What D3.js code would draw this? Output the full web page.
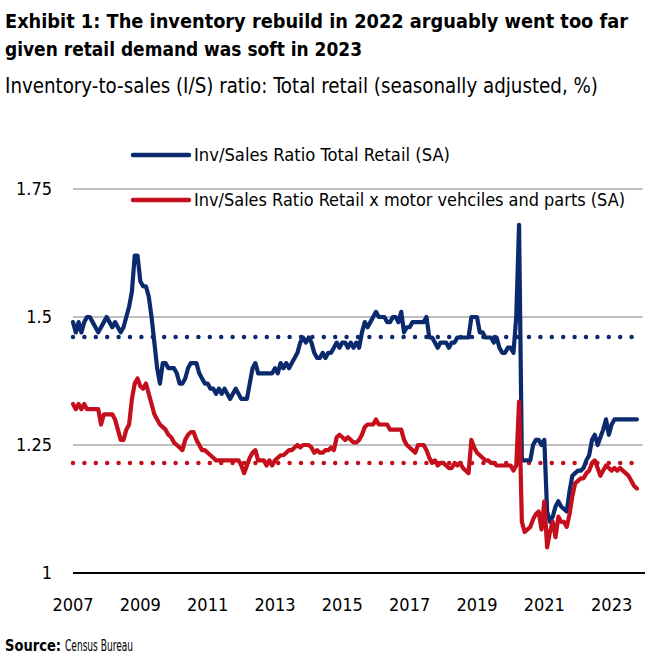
<!DOCTYPE html>
<html>
<head>
<meta charset="utf-8">
<script src="https://cdn.jsdelivr.net/npm/d3@7"></script>
<style>
  html, body { margin: 0; padding: 0; background: #fff; }
  svg { display: block; }
  .cond { font-family: "Liberation Sans Narrow", "DejaVu Sans Condensed", "Roboto", sans-serif; }
</style>
</head>
<body>
<script>
// ---------------- DATA ----------------
const startYear = 2007;
const yearTicks = [2007, 2009, 2011, 2013, 2015, 2017, 2019, 2021, 2023];
const yTicks = [1, 1.25, 1.5, 1.75];
const yTickLabels = ["1", "1.25", "1.5", "1.75"];

const seriesNames = [
  "Inv/Sales Ratio Total Retail (SA)",
  "Inv/Sales Ratio Retail x motor vehciles and parts (SA)"
];

// Monthly, Jan 2007 .. Oct 2023
const totalRetail = [
  1.49, 1.47, 1.49, 1.47, 1.49, 1.50, 1.50, 1.49, 1.48, 1.47, 1.48, 1.49, // 2007
  1.50, 1.49, 1.48, 1.49, 1.48, 1.47, 1.48, 1.50, 1.52, 1.55, 1.62, 1.62, // 2008
  1.57, 1.56, 1.56, 1.54, 1.50, 1.45, 1.40, 1.37, 1.41, 1.41, 1.40, 1.40, // 2009
  1.40, 1.39, 1.37, 1.37, 1.38, 1.40, 1.41, 1.41, 1.41, 1.39, 1.38, 1.37, // 2010
  1.37, 1.36, 1.36, 1.35, 1.36, 1.35, 1.36, 1.35, 1.34, 1.35, 1.36, 1.35, // 2011
  1.34, 1.34, 1.34, 1.37, 1.40, 1.41, 1.39, 1.39, 1.39, 1.39, 1.39, 1.39, // 2012
  1.40, 1.39, 1.41, 1.40, 1.41, 1.40, 1.41, 1.42, 1.43, 1.45, 1.46, 1.45, // 2013
  1.46, 1.45, 1.43, 1.42, 1.42, 1.43, 1.42, 1.43, 1.43, 1.44, 1.45, 1.44, // 2014
  1.45, 1.45, 1.44, 1.45, 1.44, 1.45, 1.44, 1.47, 1.49, 1.48, 1.49, 1.50, // 2015
  1.51, 1.50, 1.50, 1.50, 1.49, 1.49, 1.50, 1.50, 1.49, 1.51, 1.47, 1.48, // 2016
  1.48, 1.49, 1.49, 1.49, 1.49, 1.49, 1.50, 1.46, 1.46, 1.45, 1.44, 1.45, // 2017
  1.45, 1.45, 1.44, 1.45, 1.45, 1.46, 1.46, 1.46, 1.46, 1.46, 1.50, 1.50, // 2018
  1.50, 1.47, 1.47, 1.46, 1.46, 1.46, 1.45, 1.46, 1.44, 1.43, 1.43, 1.44, // 2019
  1.44, 1.43, 1.50, 1.68, 1.22, 1.22, 1.22, 1.22, 1.25, 1.26, 1.26, 1.25, // 2020
  1.26, 1.12, 1.10, 1.11, 1.13, 1.14, 1.13, 1.125, 1.12, 1.16, 1.19, 1.195, // 2021
  1.20, 1.20, 1.205, 1.22, 1.23, 1.26, 1.27, 1.25, 1.265, 1.28, 1.30, 1.27, // 2022
  1.29, 1.30, 1.30, 1.30, 1.30, 1.30, 1.30, 1.30, 1.30, 1.30              // 2023
];

const retailExAuto = [
  1.33, 1.32, 1.33, 1.32, 1.33, 1.32, 1.32, 1.32, 1.32, 1.32, 1.29, 1.31, // 2007
  1.31, 1.31, 1.31, 1.30, 1.28, 1.26, 1.26, 1.28, 1.29, 1.34, 1.37, 1.38, // 2008
  1.365, 1.36, 1.37, 1.35, 1.33, 1.31, 1.30, 1.29, 1.285, 1.28, 1.27, 1.265, // 2009
  1.255, 1.25, 1.245, 1.24, 1.26, 1.27, 1.275, 1.275, 1.26, 1.25, 1.24, 1.24, // 2010
  1.235, 1.23, 1.225, 1.22, 1.22, 1.22, 1.22, 1.22, 1.22, 1.22, 1.22, 1.22, // 2011
  1.21, 1.195, 1.21, 1.225, 1.235, 1.24, 1.22, 1.22, 1.22, 1.21, 1.22, 1.21, // 2012
  1.22, 1.225, 1.23, 1.23, 1.235, 1.24, 1.24, 1.245, 1.25, 1.245, 1.25, 1.25, // 2013
  1.25, 1.245, 1.235, 1.24, 1.235, 1.235, 1.24, 1.24, 1.245, 1.24, 1.265, 1.27, // 2014
  1.265, 1.26, 1.265, 1.26, 1.255, 1.255, 1.26, 1.27, 1.285, 1.29, 1.29, 1.29, // 2015
  1.30, 1.29, 1.29, 1.29, 1.29, 1.28, 1.28, 1.28, 1.28, 1.28, 1.26, 1.25, // 2016
  1.245, 1.24, 1.235, 1.25, 1.25, 1.25, 1.24, 1.225, 1.215, 1.22, 1.21, 1.215, // 2017
  1.215, 1.21, 1.205, 1.205, 1.215, 1.21, 1.215, 1.205, 1.20, 1.195, 1.26, 1.245, // 2018
  1.235, 1.23, 1.225, 1.22, 1.22, 1.215, 1.215, 1.21, 1.21, 1.21, 1.21, 1.21, // 2019
  1.21, 1.20, 1.21, 1.335, 1.10, 1.08, 1.085, 1.09, 1.105, 1.115, 1.12, 1.085, // 2020
  1.14, 1.05, 1.08, 1.10, 1.07, 1.11, 1.10, 1.10, 1.09, 1.115, 1.15, 1.175, // 2021
  1.18, 1.185, 1.185, 1.195, 1.20, 1.215, 1.22, 1.205, 1.19, 1.20, 1.21, 1.205, // 2022
  1.20, 1.205, 1.20, 1.205, 1.20, 1.195, 1.19, 1.18, 1.17, 1.165            // 2023
];

// long-run averages (dotted lines)
const avgTotalRetail = 1.461;
const avgRetailExAuto = 1.215;

// ---------------- CHART ----------------
const W = 650, H = 663;
const navy = "#0b2a6e", red = "#c50f1c", grid = "#bfbfbf";

const svg = d3.select("body").append("svg").attr("width", W).attr("height", H);

const nMonths = totalRetail.length;
const x = d3.scaleLinear().domain([0, 203]).range([73, 642.5]);
const y = d3.scaleLinear().domain([1, 1.75]).range([573, 189]);

// helper: fit text to a width
function fit(sel, w) {
  sel.attr("textLength", w).attr("lengthAdjust", "spacingAndGlyphs");
  return sel;
}

// Title
const tg = svg.append("g").attr("class", "cond");
fit(tg.append("text").attr("x", 5).attr("y", 28)
  .attr("font-size", 20).attr("font-weight", "bold").attr("fill", "#000")
  .text("Exhibit 1: The inventory rebuild in 2022 arguably went too far"), 623);
fit(tg.append("text").attr("x", 5).attr("y", 56)
  .attr("font-size", 20).attr("font-weight", "bold").attr("fill", "#000")
  .text("given retail demand was soft in 2023"), 357);
fit(tg.append("text").attr("x", 5).attr("y", 93)
  .attr("font-size", 20.5).attr("fill", "#000")
  .text("Inventory-to-sales (I/S) ratio: Total retail (seasonally adjusted, %)"), 593);

// gridlines
svg.append("g").selectAll("line").data(yTicks.filter(d => d > 1)).join("line")
  .attr("x1", x(0)).attr("x2", x(203))
  .attr("y1", d => y(d)).attr("y2", d => y(d))
  .attr("stroke", grid).attr("stroke-width", 2);

// y labels
svg.append("g").attr("class", "cond").selectAll("text").data(yTicks).join("text")
  .attr("x", 52).attr("y", d => y(d) + 6)
  .attr("text-anchor", "end").attr("font-size", 18).attr("fill", "#000")
  .text((d, i) => yTickLabels[i]);

// x axis
svg.append("line").attr("x1", x(0)).attr("x2", x(203) + 2.5)
  .attr("y1", y(1)).attr("y2", y(1)).attr("stroke", "#000").attr("stroke-width", 2);

svg.append("g").attr("class", "cond").selectAll("text").data(yearTicks).join("text")
  .attr("x", d => x((d - startYear) * 12)).attr("y", 611)
  .attr("text-anchor", "middle").attr("font-size", 18).attr("fill", "#000")
  .text(d => d);

// average dotted lines
const idx = d3.range(nMonths);
const avgLine = v => d3.line().x(i => x(i)).y(() => y(v))(idx);
svg.append("path").attr("d", avgLine(avgTotalRetail))
  .attr("fill", "none").attr("stroke", navy).attr("stroke-width", 4.5)
  .attr("stroke-linecap", "round").attr("stroke-dasharray", "0 11.4");
svg.append("path").attr("d", avgLine(avgRetailExAuto))
  .attr("fill", "none").attr("stroke", red).attr("stroke-width", 4.5)
  .attr("stroke-linecap", "round").attr("stroke-dasharray", "0 11.4");

// series lines
const line = d3.line().x((d, i) => x(i)).y(d => y(d));
svg.append("path").datum(totalRetail).attr("d", line)
  .attr("fill", "none").attr("stroke", navy).attr("stroke-width", 4.2)
  .attr("stroke-linejoin", "round").attr("stroke-linecap", "round");
svg.append("path").datum(retailExAuto).attr("d", line)
  .attr("fill", "none").attr("stroke", red).attr("stroke-width", 4.2)
  .attr("stroke-linejoin", "round").attr("stroke-linecap", "round");

// legend
const lg = svg.append("g");
const legendItems = [
  {name: seriesNames[0], color: navy, y: 155, w: 256},
  {name: seriesNames[1], color: red, y: 200, w: 431}
];
lg.selectAll("line").data(legendItems).join("line")
  .attr("x1", 133).attr("x2", 189).attr("y1", d => d.y).attr("y2", d => d.y)
  .attr("stroke", d => d.color).attr("stroke-width", 4.5).attr("stroke-linecap", "round");
lg.selectAll("text").data(legendItems).join("text").attr("class", "cond")
  .attr("x", 194).attr("y", d => d.y + 6)
  .attr("font-size", 18).attr("fill", "#000")
  .attr("textLength", d => d.w).attr("lengthAdjust", "spacingAndGlyphs")
  .text(d => d.name);

// source
fit(svg.append("text").attr("class", "cond").attr("x", 5).attr("y", 651)
  .attr("font-size", 15).attr("font-weight", "bold").attr("fill", "#000")
  .text("Source:"), 56);
fit(svg.append("text").attr("class", "cond").attr("x", 65).attr("y", 651)
  .attr("font-size", 15).attr("fill", "#000")
  .text("Census Bureau"), 68);
</script>
</body>
</html>
